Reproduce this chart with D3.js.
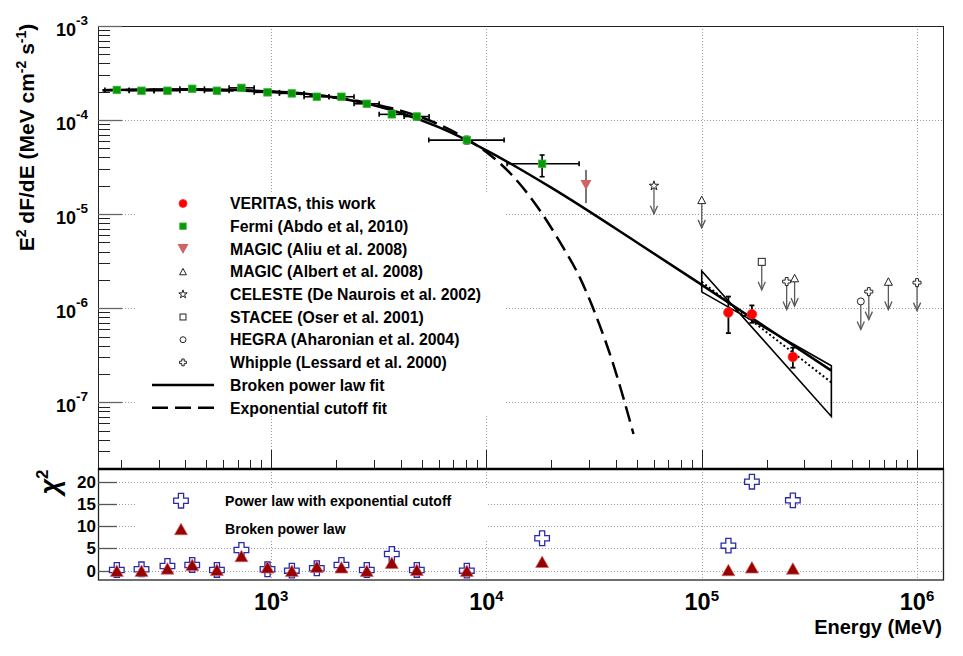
<!DOCTYPE html>
<html><head><meta charset="utf-8">
<script src="https://cdn.jsdelivr.net/npm/d3@7"></script>
<style>
body{margin:0;background:#fff}
svg{display:block}
text{font-family:"Liberation Sans",Arial,Helvetica,sans-serif;font-weight:bold;fill:#000}
</style>
</head><body>
<svg id="c" width="963" height="656"></svg>
<script>
// ---------------- data ----------------
const fermiE   = [192,250,330,430,560,728,962,1248,1630,2121,2782,3635,4750,8110,18140];
const fermiF   = [2.09e-4,2.05e-4,2.05e-4,2.15e-4,2.05e-4,2.2e-4,1.97e-4,1.92e-4,1.77e-4,1.77e-4,1.49e-4,1.15e-4,1.09e-4,6.12e-5,3.43e-5];
const fermiElo = [169,219,286,377,490,638,834,1093,1422,1858,2427,3175,4146,5400,12470];
const fermiEhi = [219,286,377,490,638,834,1093,1422,1858,2427,3175,4146,5418,12080,26940];
const fermiFlo = [2.03e-4,1.99e-4,1.99e-4,2.08e-4,1.98e-4,2.12e-4,1.9e-4,1.85e-4,1.7e-4,1.69e-4,1.41e-4,1.08e-4,1.01e-4,5.6e-5,2.5e-5];
const fermiFhi = [2.15e-4,2.11e-4,2.11e-4,2.22e-4,2.12e-4,2.28e-4,2.04e-4,1.99e-4,1.84e-4,1.85e-4,1.57e-4,1.22e-4,1.17e-4,6.7e-5,4.25e-5];

const veritasE   = [1.33e5,1.71e5,2.65e5];
const veritasF   = [9.0e-7,8.63e-7,3.03e-7];
const veritasFlo = [5.43e-7,7.0e-7,2.33e-7];
const veritasFhi = [1.33e-6,1.07e-6,3.8e-7];

const magicAliuE = [2.9e4];
const magicAliuF = [2.04e-5];
const magicAliuFlo = [1.31e-5];
const magicAliuFhi = [2.95e-5];

// upper limits
const celesteE = [6.0e4],              celesteF = [2.0e-5];
const magicAlbE = [1.0e5,2.7e5,7.36e5], magicAlbF = [1.417e-5,2.09e-6,1.92e-6];
const staceeE = [1.9e5],               staceeF = [3.11e-6];
const hegraE = [5.48e5],               hegraF = [1.18e-6];
const whippleE = [2.48e5,5.97e5,1.0e6], whippleF = [1.92e-6,1.5e-6,1.87e-6];

// fits
const bplE = [165,300,500,800,1200,2000,3000,4000,6000,10000,20000,50000,100000,200000,400000];
const bplF = [2.08e-4,2.11e-4,2.11e-4,2.06e-4,1.97e-4,1.73e-4,1.44e-4,1.19e-4,8.4e-5,4.77e-5,1.91e-5,5.0e-6,1.77e-6,6.2e-7,2.17e-7];
const ecE = [165,300,500,800,1200,2000,3000,4000,6000,8000,10400,12900,17100,22000,27200,32500,38900,48200];
const ecF = [2.08e-4,2.10e-4,2.09e-4,2.04e-4,1.94e-4,1.73e-4,1.48e-4,1.26e-4,9.0e-5,6.4e-5,4.26e-5,2.72e-5,1.23e-5,5.0e-6,2.1e-6,8.0e-7,2.5e-7,4.6e-8];

// VERITAS power-law butterfly and best fit
const bowE = [1e5,4e5,4e5,1e5];
const bowF = [2.49e-6,7.07e-8,2.44e-7,1.49e-6];
const vfitE = [1e5,4e5];
const vfitF = [1.906e-6,1.625e-7];

// chi-square panel
const chiE   = [192,250,330,430,560,728,962,1248,1630,2121,2782,3635,4750,8110,18140,133000,171000,265000];
const chiExp = [0.16,0.3,1.06,1.28,0.16,4.65,0.3,0,0.54,1.28,0.16,3.75,0.16,0,7.28,5.62,20.0,15.8];
const chiBpl = [0,0,0.5,1.3,0.2,3.3,0.75,0,0.9,0.75,0,1.8,0.2,0,2.0,0.15,0.75,0.5];

// ticks
const xMajor = [1e3,1e4,1e5,1e6];
const xMajorExp = ["3","4","5","6"];
const yMajor = [1e-7,1e-6,1e-5,1e-4,1e-3];
const yMajorExp = ["-7","-6","-5","-4","-3"];
const chiTicks = [0,5,10,15,20];
const chiTickLabels = ["0","5","10","15","20"];

const legendTop = [
  {type:"circleRed", label:"VERITAS, this work"},
  {type:"squareGreen", label:"Fermi (Abdo et al, 2010)"},
  {type:"triDownPink", label:"MAGIC (Aliu et al. 2008)"},
  {type:"openTri", label:"MAGIC (Albert et al. 2008)"},
  {type:"openStar", label:"CELESTE (De Naurois et al. 2002)"},
  {type:"openSquare", label:"STACEE (Oser et al. 2001)"},
  {type:"openCircle", label:"HEGRA (Aharonian et al. 2004)"},
  {type:"openCross", label:"Whipple (Lessard et al. 2000)"},
  {type:"solid", label:"Broken power law fit"},
  {type:"dashed", label:"Exponential cutoff fit"}
];
const legendBottom = [
  {type:"blueCross", label:"Power law with exponential cutoff"},
  {type:"redTri", label:"Broken power law"}
];

// ---------------- layout ----------------
const svg = d3.select("#c");
svg.append("rect").attr("width",963).attr("height",656).attr("fill","#fff");
const L=98, R=943, T=26, B1=468, T2=469, B2=580;
const x  = d3.scaleLog().domain([157,1.32e6]).range([L,R]);
const y  = d3.scaleLog().domain([2e-8,1e-3]).range([B1,T]);
const yc = d3.scaleLinear().domain([-2.1,22.85]).range([B2,T2]);
const px = v => Math.round(v)+0.5;

// ---------------- grid ----------------
const grid = svg.append("g").attr("stroke","#9a9a9a").attr("stroke-width",1).attr("stroke-dasharray","1,2").attr("fill","none");
xMajor.forEach(v=>{
  grid.append("line").attr("x1",px(x(v))).attr("x2",px(x(v))).attr("y1",T).attr("y2",B1);
  grid.append("line").attr("x1",px(x(v))).attr("x2",px(x(v))).attr("y1",T2).attr("y2",B2);
});
yMajor.forEach(v=>{
  grid.append("line").attr("x1",L).attr("x2",R).attr("y1",px(y(v))).attr("y2",px(y(v)));
});
chiTicks.forEach(v=>{
  grid.append("line").attr("x1",L).attr("x2",R).attr("y1",px(yc(v))).attr("y2",px(yc(v)));
});

// legend boxes (white, cover grid)
svg.append("rect").attr("x",137).attr("y",192).attr("width",369).attr("height",224).attr("fill","#fff");
svg.append("rect").attr("x",137).attr("y",490).attr("width",351).attr("height",50).attr("fill","#fff");

// ---------------- axes / frame ----------------
const ax = svg.append("g").attr("fill","none");
ax.append("rect").attr("x",L+0.5).attr("y",T+0.5).attr("width",R-L).attr("height",B1-T).attr("stroke","#222").attr("stroke-width",1);
ax.append("rect").attr("x",L+0.5).attr("y",T2).attr("width",R-L).attr("height",B2-T2).attr("stroke","#222").attr("stroke-width",1.3);
const yMinor = y.ticks().filter(v=>!yMajor.includes(v));
yMinor.forEach(v=>{
  ax.append("line").attr("x1",L).attr("x2",L+12).attr("y1",px(y(v))).attr("y2",px(y(v))).attr("stroke","#222");
});
yMajor.forEach(v=>{
  ax.append("line").attr("x1",L).attr("x2",L+24).attr("y1",px(y(v))).attr("y2",px(y(v))).attr("stroke","#666").attr("stroke-width",1.3);
});
const xMinor = x.ticks().filter(v=>!xMajor.includes(v));
xMinor.forEach(v=>{
  ax.append("line").attr("x1",px(x(v))).attr("x2",px(x(v))).attr("y1",B1).attr("y2",B1-8).attr("stroke","#222");
});
xMajor.forEach(v=>{
  ax.append("line").attr("x1",px(x(v))).attr("x2",px(x(v))).attr("y1",B1).attr("y2",B1-18).attr("stroke","#222");
});
chiTicks.forEach(v=>{
  ax.append("line").attr("x1",L).attr("x2",L+19).attr("y1",px(yc(v))).attr("y2",px(yc(v))).attr("stroke","#555").attr("stroke-width",1.3);
});
ax.append("line").attr("x1",L).attr("x2",R+1).attr("y1",469).attr("y2",469).attr("stroke","#000").attr("stroke-width",2.5);

// ---------------- labels ----------------
function supText(xp, yp, base, exp, fs, efs, dy, anchor){
  const t = svg.append("text").attr("x",xp).attr("y",yp).attr("text-anchor",anchor).attr("font-size",fs);
  t.append("tspan").text(base);
  t.append("tspan").attr("font-size",efs).attr("dy",dy).text(exp);
  return t;
}
yMajor.forEach((v,i)=> supText(88, y(v)+9.5, "10", yMajorExp[i], 18, 13.5, -11, "end"));
xMajor.forEach((v,i)=> supText(x(v), 610, "10", xMajorExp[i], 23.5, 15, -9, "middle"));
chiTicks.forEach((v,i)=> svg.append("text").attr("x",96).attr("y",yc(v)+6).attr("text-anchor","end").attr("font-size",17).text(chiTickLabels[i]));

svg.append("text").attr("x",942).attr("y",634).attr("text-anchor","end").attr("font-size",20).text("Energy (MeV)");

(function(){
  const t = svg.append("text").attr("transform","translate(33.5,137.5) rotate(-90)").attr("text-anchor","middle").attr("font-size",21);
  t.append("tspan").text("E");
  t.append("tspan").attr("font-size",14).attr("dy",-8).text("2");
  t.append("tspan").attr("dy",8).text(" dF/dE (MeV cm");
  t.append("tspan").attr("font-size",14).attr("dy",-8).text("-2");
  t.append("tspan").attr("dy",8).text(" s");
  t.append("tspan").attr("font-size",14).attr("dy",-8).text("-1");
  t.append("tspan").attr("dy",8).text(")");
})();
(function(){
  const t = svg.append("text").attr("transform","translate(59,482) rotate(-90)").attr("text-anchor","middle").attr("font-size",27).attr("font-family","DejaVu Serif").attr("font-weight","normal").attr("font-style","italic");
  t.append("tspan").text("χ");
  t.append("tspan").attr("font-size",17).attr("dy",-11).attr("font-style","normal").attr("font-family","Liberation Sans").attr("font-weight","bold").text("2");
})();

// ---------------- marker helpers ----------------
function crossPath(h,a){return `M${-a},${-h}H${a}V${-a}H${h}V${a}H${a}V${h}H${-a}V${a}H${-h}V${-a}H${-a}Z`;}
function triUp(w,h){return `M0,${-h/2}L${w/2},${h/2}L${-w/2},${h/2}Z`;}
function triDown(w,h){return `M0,${h/2}L${w/2},${-h/2}L${-w/2},${-h/2}Z`;}
function marker(g,type,cx,cy,legend){
  const s = legend?0.85:1;
  switch(type){
    case "circleRed": g.append("circle").attr("cx",cx).attr("cy",cy).attr("r",(legend?4:4.8)).attr("fill","#ff0000").attr("stroke","#ff3030").attr("stroke-width",0.8); break;
    case "squareGreen": {const a=legend?6.5:7.5; g.append("rect").attr("x",cx-a/2).attr("y",cy-a/2).attr("width",a).attr("height",a).attr("fill","#079a07").attr("stroke","#3cb83c").attr("stroke-width",0.8); break;}
    case "triDownPink": g.append("path").attr("transform",`translate(${cx},${cy})`).attr("d",triDown(11,10)).attr("fill","#d06464"); break;
    case "openTri": g.append("path").attr("transform",`translate(${cx},${cy})`).attr("d",triUp(8*s,7.5*s)).attr("fill","#fff").attr("stroke","#222").attr("stroke-width",1); break;
    case "openStar": g.append("path").attr("transform",`translate(${cx},${cy})`).attr("d",d3.symbol(d3.symbolStar,legend?22:28)()).attr("fill","#fff").attr("stroke","#222").attr("stroke-width",1); break;
    case "openSquare": {const a=7*s; g.append("rect").attr("x",cx-a/2).attr("y",cy-a/2).attr("width",a).attr("height",a).attr("fill","#fff").attr("stroke","#222").attr("stroke-width",1); break;}
    case "openCircle": g.append("circle").attr("cx",cx).attr("cy",cy).attr("r",3.5*s).attr("fill","#fff").attr("stroke","#222").attr("stroke-width",1); break;
    case "openCross": g.append("path").attr("transform",`translate(${cx},${cy})`).attr("d",crossPath(4*s,1.4*s)).attr("fill","#fff").attr("stroke","#222").attr("stroke-width",1); break;
    case "blueCross": g.append("path").attr("transform",`translate(${cx},${cy})`).attr("d",crossPath(7.3,2.6)).attr("fill","#fff").attr("stroke","#2a2aa8").attr("stroke-width",1.3); break;
    case "redTri": g.append("path").attr("transform",`translate(${cx},${cy})`).attr("d",triUp(13,11.5)).attr("fill","#990000").attr("stroke","#c86a6a").attr("stroke-width",0.7); break;
  }
}

// ---------------- fit curves ----------------
const line = d3.line().x(d=>x(d[0])).y(d=>y(d[1])).curve(d3.curveMonotoneX);
const plot = svg.append("g");
plot.append("path").attr("d",line(ecE.map((e,i)=>[e,ecF[i]]))).attr("fill","none").attr("stroke","#000").attr("stroke-width",2.5).attr("stroke-dasharray","16,7");
plot.append("path").attr("d",line(bplE.map((e,i)=>[e,bplF[i]]))).attr("fill","none").attr("stroke","#000").attr("stroke-width",2.5);

plot.append("path").attr("d","M"+bowE.map((e,i)=>x(e)+","+y(bowF[i])).join("L")+"Z").attr("fill","none").attr("stroke","#000").attr("stroke-width",1.6);
plot.append("path").attr("d",d3.line().x(d=>x(d[0])).y(d=>y(d[1]))(vfitE.map((e,i)=>[e,vfitF[i]]))).attr("fill","none").attr("stroke","#000").attr("stroke-width",2).attr("stroke-dasharray","2,2.5");

// ---------------- error bars ----------------
function errX(g,e,lo,hi,f,col,w){
  const yy=y(f);
  g.append("line").attr("x1",x(lo)).attr("x2",x(hi)).attr("y1",yy).attr("y2",yy).attr("stroke",col).attr("stroke-width",w);
  [lo,hi].forEach(v=>g.append("line").attr("x1",x(v)).attr("x2",x(v)).attr("y1",yy-2.5).attr("y2",yy+2.5).attr("stroke",col).attr("stroke-width",w));
}
function errY(g,e,lo,hi,col,w,cap){
  const xx=x(e);
  g.append("line").attr("x1",xx).attr("x2",xx).attr("y1",y(lo)).attr("y2",y(hi)).attr("stroke",col).attr("stroke-width",w);
  if(cap)[lo,hi].forEach(v=>g.append("line").attr("x1",xx-2.5).attr("x2",xx+2.5).attr("y1",y(v)).attr("y2",y(v)).attr("stroke",col).attr("stroke-width",w));
}
fermiE.forEach((e,i)=>{
  errX(plot,e,fermiElo[i],fermiEhi[i],fermiF[i],"#000",1.6);
  errY(plot,e,fermiFlo[i],fermiFhi[i],"#000",1.6,true);
});
veritasE.forEach((e,i)=> errY(plot,e,veritasFlo[i],veritasFhi[i],"#000",1.8,true));
magicAliuE.forEach((e,i)=> errY(plot,e,magicAliuFlo[i],magicAliuFhi[i],"#777",2,false));

function ul(g,e,f,type){
  const xx=x(e), y0=y(f), y1=y0+28;
  g.append("line").attr("x1",xx).attr("x2",xx).attr("y1",y0).attr("y2",y1).attr("stroke","#5a5a5a").attr("stroke-width",1.3);
  g.append("path").attr("d",`M${xx-3.6},${y1-8}L${xx},${y1}L${xx+3.6},${y1-8}`).attr("fill","none").attr("stroke","#5a5a5a").attr("stroke-width",1.3);
  marker(g,type,xx,y0,false);
}
celesteE.forEach((e,i)=>ul(plot,e,celesteF[i],"openStar"));
magicAlbE.forEach((e,i)=>ul(plot,e,magicAlbF[i],"openTri"));
staceeE.forEach((e,i)=>ul(plot,e,staceeF[i],"openSquare"));
hegraE.forEach((e,i)=>ul(plot,e,hegraF[i],"openCircle"));
whippleE.forEach((e,i)=>ul(plot,e,whippleF[i],"openCross"));

fermiE.forEach((e,i)=>marker(plot,"squareGreen",x(e),y(fermiF[i]),false));
magicAliuE.forEach((e,i)=>marker(plot,"triDownPink",x(e),y(magicAliuF[i]),false));
veritasE.forEach((e,i)=>marker(plot,"circleRed",x(e),y(veritasF[i]),false));

const chiG = svg.append("g");
chiE.forEach((e,i)=>marker(chiG,"blueCross",x(e),yc(chiExp[i]),false));
chiE.forEach((e,i)=>marker(chiG,"redTri",x(e),yc(chiBpl[i]),false));

// ---------------- legends ----------------
const lg = svg.append("g");
legendTop.forEach((d,i)=>{
  const cy = 203.5 + i*22.7;
  if(d.type==="solid"){
    lg.append("line").attr("x1",152).attr("x2",214).attr("y1",cy).attr("y2",cy).attr("stroke","#000").attr("stroke-width",2.5);
  } else if(d.type==="dashed"){
    lg.append("line").attr("x1",152).attr("x2",214).attr("y1",cy).attr("y2",cy).attr("stroke","#000").attr("stroke-width",2.5).attr("stroke-dasharray","16,7");
  } else marker(lg,d.type,183,cy,true);
  lg.append("text").attr("x",230).attr("y",cy+5.7).attr("font-size",15.8).text(d.label);
});
legendBottom.forEach((d,i)=>{
  const cy = 500.7 + i*28.3;
  marker(lg,d.type,181,cy,false);
  lg.append("text").attr("x",225).attr("y",cy+5).attr("font-size",14.1).text(d.label);
});
</script>
</body></html>
